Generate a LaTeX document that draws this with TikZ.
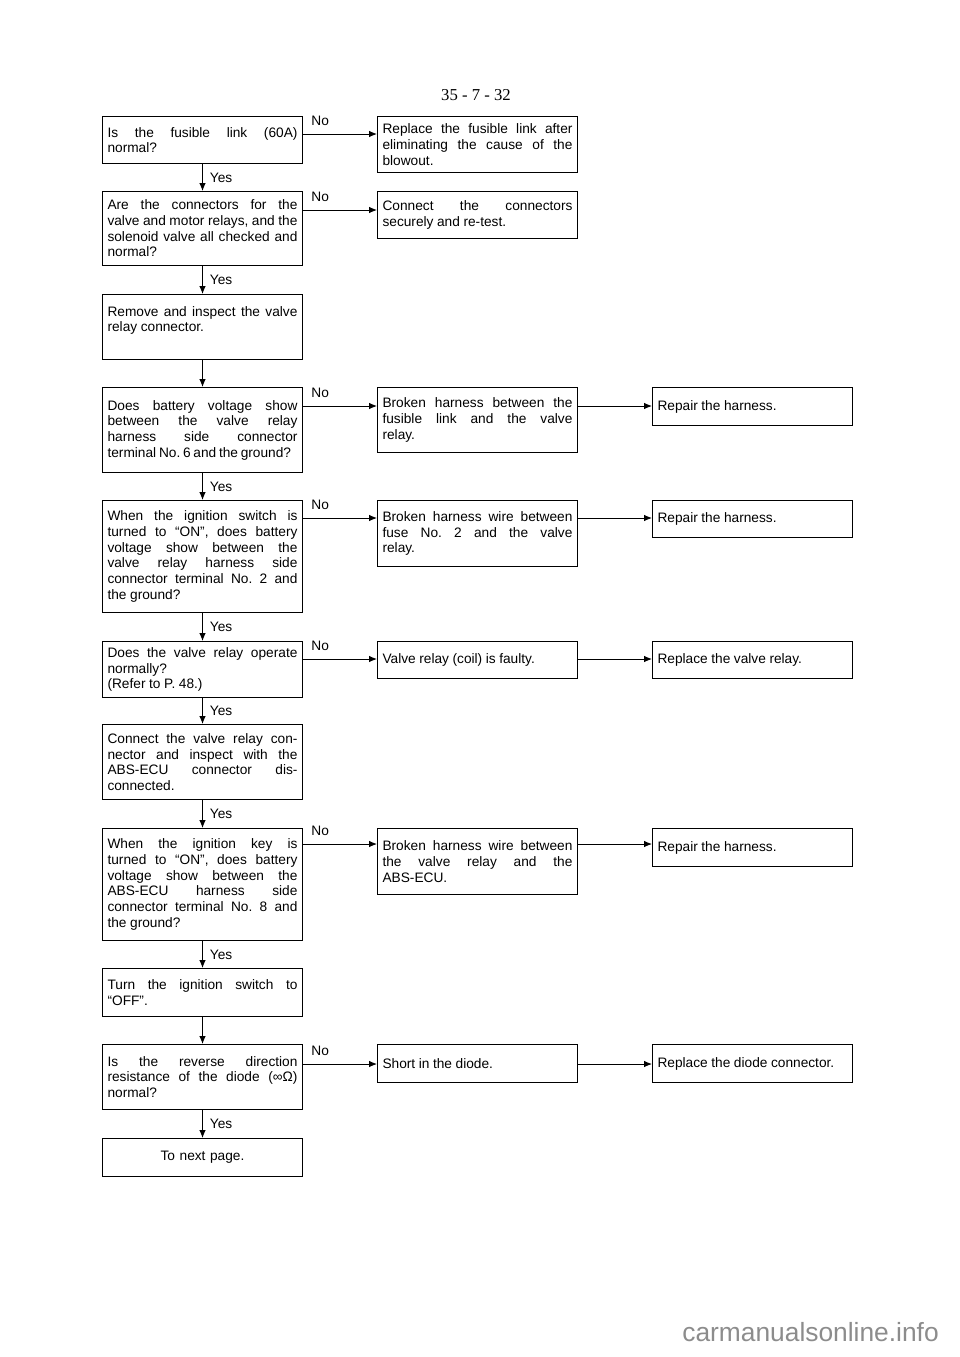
\documentclass[tikz,border=0pt]{standalone}
\usepackage{fontspec}
\setmainfont{Liberation Sans}
\newfontfamily\pagefont{Liberation Serif}
\usetikzlibrary{arrows.meta}
\hbadness=10000
\tolerance=10000
\hyphenpenalty=10000
\exhyphenpenalty=10000
\frenchspacing
\newcommand{\boxfont}{\fontsize{7.8}{8.9}\selectfont\frenchspacing\spaceskip=0.26em plus 1.5em minus 0.12em\relax}

\begin{document}
\begin{tikzpicture}[x=0.02cm, y=-0.02cm,
  qbox/.style={draw, line width=0.6pt, anchor=north west, text width=3.8cm,
    inner xsep=0.1cm, inner ysep=0.08cm, align=justify, font=\boxfont},
  arr/.style={line width=0.5pt, -{Latex[length=1.6mm, width=1.3mm]}},
  lab/.style={font=\boxfont, inner sep=0pt}]
\useasboundingbox (0,0) rectangle (960,1357);

\node [font=\pagefont\fontsize{9.5}{11}\selectfont] (pg) at (476,95) {35 - 7 - 32};

\node [qbox, minimum height=0.94cm] (q1) at (102,116) {Is the fusible link (60A)\linebreak normal?};
\node [qbox, minimum height=1.48cm] (q2) at (102,191) {Are the connectors for the\linebreak valve and motor relays, and the\linebreak solenoid valve all checked and\linebreak normal?};
\node [qbox, minimum height=1.3cm] (q3) at (102,294) {Remove and inspect the valve\linebreak relay connector.\\\mbox{}};
\node [qbox, minimum height=1.7cm] (q4) at (102,387) {Does battery voltage show\linebreak between the valve relay\linebreak harness side connector\linebreak {\spaceskip=0.2em minus 0.1em terminal No. 6 and the ground?}};
\node [qbox, minimum height=2.24cm] (q5) at (102,500) {When the ignition switch is\linebreak turned to ``ON'', does battery\linebreak voltage show between the\linebreak valve relay harness side\linebreak connector terminal No. 2 and\linebreak the ground?};
\node [qbox, minimum height=1.12cm] (q6) at (102,641) {Does the valve relay operate\linebreak normally?\\(Refer to P. 48.)};
\node [qbox, minimum height=1.5cm] (q7) at (102,724) {Connect the valve relay con-\linebreak nector and inspect with the\linebreak ABS-ECU connector dis-\linebreak connected.};
\node [qbox, minimum height=2.24cm] (q8) at (102,828) {When the ignition key is\linebreak turned to ``ON'', does battery\linebreak voltage show between the\linebreak ABS-ECU harness side\linebreak connector terminal No. 8 and\linebreak the ground?};
\node [qbox, minimum height=0.96cm] (q9) at (102,968) {Turn the ignition switch to\linebreak ``OFF''.};
\node [qbox, minimum height=1.3cm] (q10) at (102,1044) {Is the reverse direction\linebreak resistance of the diode (∞Ω)\linebreak normal?};
\node [qbox, minimum height=0.76cm, align=center] (q11) at (102,1138) {To next page.};

\node [qbox, minimum height=1.12cm] (r1) at (377,116) {Replace the fusible link after\linebreak eliminating the cause of the\linebreak blowout.};
\node [qbox, minimum height=0.94cm] (r2) at (377,191) {Connect the connectors\linebreak securely and re-test.};
\node [qbox, minimum height=1.3cm] (r4) at (377,387) {Broken harness between the\linebreak fusible link and the valve\linebreak relay.};
\node [qbox, minimum height=1.32cm] (r5) at (377,500) {Broken harness wire between\linebreak fuse No. 2 and the valve\linebreak relay.};
\node [qbox, minimum height=0.74cm] (r6) at (377,641) {Valve relay (coil) is faulty.};
\node [qbox, minimum height=1.32cm] (r8) at (377,828) {Broken harness wire between\linebreak the valve relay and the\linebreak ABS-ECU.};
\node [qbox, minimum height=0.76cm] (r10) at (377,1044) {Short in the diode.};

\node [qbox, minimum height=0.76cm] (s4) at (652,387) {Repair the harness.};
\node [qbox, minimum height=0.74cm] (s5) at (652,500) {Repair the harness.};
\node [qbox, minimum height=0.74cm] (s6) at (652,641) {Replace the valve relay.};
\node [qbox, minimum height=0.76cm] (s8) at (652,828) {Repair the harness.};
\node [qbox, minimum height=0.76cm] (s10) at (652,1044) {Replace the diode connector.};

\draw [arr] (q1) -- node [lab, right, xshift=0.14cm] (y1) {Yes} (q2);
\draw [arr] (q2) -- node [lab, right, xshift=0.14cm] (y2) {Yes} (q3);
\draw [arr] (q3) -- (q4);
\draw [arr] (q4) -- node [lab, right, xshift=0.14cm] (y4) {Yes} (q5);
\draw [arr] (q5) -- node [lab, right, xshift=0.14cm] (y5) {Yes} (q6);
\draw [arr] (q6) -- node [lab, right, xshift=0.14cm] (y6) {Yes} (q7);
\draw [arr] (q7) -- node [lab, right, xshift=0.14cm] (y7) {Yes} (q8);
\draw [arr] (q8) -- node [lab, right, xshift=0.14cm] (y8) {Yes} (q9);
\draw [arr] (q9) -- (q10);
\draw [arr] (q10) -- node [lab, right, xshift=0.14cm] (y10) {Yes} (q11);

\draw [arr] ([yshift=-0.36cm]q1.north east) -- node [lab, pos=0, anchor=south west, xshift=0.16cm, yshift=0.16cm] (n1) {No} ([yshift=-0.36cm]r1.north west);
\draw [arr] ([yshift=-0.38cm]q2.north east) -- node [lab, pos=0, anchor=south west, xshift=0.16cm, yshift=0.16cm] (n2) {No} ([yshift=-0.38cm]r2.north west);
\draw [arr] ([yshift=-0.38cm]q4.north east) -- node [lab, pos=0, anchor=south west, xshift=0.16cm, yshift=0.16cm] (n4) {No} ([yshift=-0.38cm]r4.north west);
\draw [arr] ([yshift=-0.36cm]q5.north east) -- node [lab, pos=0, anchor=south west, xshift=0.16cm, yshift=0.16cm] (n5) {No} ([yshift=-0.36cm]r5.north west);
\draw [arr] ([yshift=-0.36cm]q6.north east) -- node [lab, pos=0, anchor=south west, xshift=0.16cm, yshift=0.16cm] (n6) {No} ([yshift=-0.36cm]r6.north west);
\draw [arr] ([yshift=-0.32cm]q8.north east) -- node [lab, pos=0, anchor=south west, xshift=0.16cm, yshift=0.16cm] (n8) {No} ([yshift=-0.32cm]r8.north west);
\draw [arr] ([yshift=-0.4cm]q10.north east) -- node [lab, pos=0, anchor=south west, xshift=0.16cm, yshift=0.16cm] (n10) {No} ([yshift=-0.4cm]r10.north west);

\draw [arr] ([yshift=-0.38cm]r4.north east) -- ([yshift=-0.38cm]s4.north west);
\draw [arr] ([yshift=-0.36cm]r5.north east) -- ([yshift=-0.36cm]s5.north west);
\draw [arr] ([yshift=-0.36cm]r6.north east) -- ([yshift=-0.36cm]s6.north west);
\draw [arr] ([yshift=-0.32cm]r8.north east) -- ([yshift=-0.32cm]s8.north west);
\draw [arr] ([yshift=-0.4cm]r10.north east) -- ([yshift=-0.4cm]s10.north west);

\node [anchor=west, inner sep=0pt, text=black!45, font=\fontsize{15}{18}\selectfont] (wm) at (682,1332) {carmanualsonline.info};

\end{tikzpicture}
\end{document}
